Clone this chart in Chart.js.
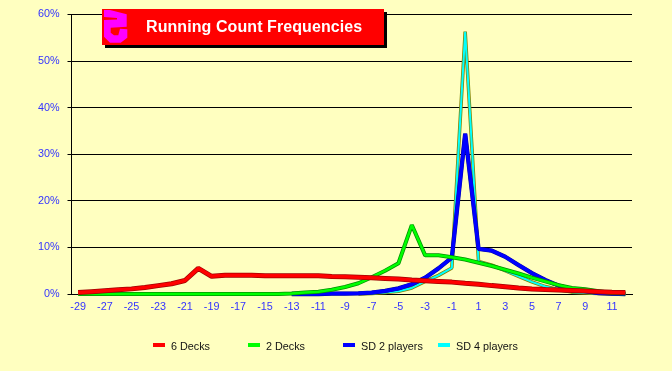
<!DOCTYPE html>
<html>
<head>
<meta charset="utf-8">
<title>Running Count Frequencies</title>
<script src="https://cdn.jsdelivr.net/npm/chart.js@4/dist/chart.umd.min.js"></script>
<style>
    html, body { margin: 0; padding: 0; background: #ffffc0; }
    #wrap { position: relative; width: 672px; height: 371px; overflow: hidden; font-family: "Liberation Sans", Arial, sans-serif; }
    #chart { position: absolute; left: 0; top: 0; }
    #banner { position: absolute; left: 102px; top: 9px; width: 282px; height: 36px; background: #ff0000; box-shadow: 3px 3px 0 #000; }
    #banner svg { position: absolute; left: 0; top: 0; }
    #banner span { position: absolute; left: 44px; top: 8px; color: #fff; font-weight: bold; font-size: 16px; line-height: 20px; letter-spacing: 0.08px; white-space: nowrap; }
    .key { position: absolute; top: 339px; font-size: 10.8px; line-height: 14px; color: #111; white-space: nowrap; }
    .key i { position: absolute; left: 0; top: 4px; width: 12px; height: 4px; }
    .key b { font-weight: normal; margin-left: 18px; }
</style>
</head>
<body>
<div id="wrap">
    <canvas id="chart" width="672" height="371"></canvas>
    <div id="banner">
        <svg width="28" height="36"><path d="M2 1 L8 1 L24.7 5.3 L24.7 17.7 L8.7 18.7 L8.7 23.7 L12 26.3 L16.3 26.3 L18 19.7 L25.3 20.3 L25.3 28.7 L18.7 33.7 L8 33.7 L2 27.7 L2 11 L15 10.5 L15 9 L2 8 Z" fill="#ff00ff"/></svg>
        <span>Running Count Frequencies</span>
    </div>
    <div id="legend"></div>
</div>
<script>
var counts = [-29,-28,-27,-26,-25,-24,-23,-22,-21,-20,-19,-18,-17,-16,-15,-14,-13,-12,-11,-10,-9,-8,-7,-6,-5,-4,-3,-2,-1,0,1,2,3,4,5,6,7,8,9,10,11,12];

var sixDecks = [0.3,0.5,0.7,0.9,1.1,1.4,1.8,2.2,2.9,5.5,3.8,4.0,4.0,4.05,3.9,3.9,3.9,3.9,3.9,3.75,3.7,3.6,3.5,3.35,3.2,3.0,2.85,2.7,2.55,2.3,2.1,1.8,1.55,1.3,1.07,0.95,0.85,0.75,0.64,0.5,0.35,0.3];
var twoDecks = [0,0,0,0,0,0,0,0,0,0,0,0,0,0,0,0,0.1,0.3,0.5,0.9,1.5,2.3,3.6,5.0,6.6,14.8,8.3,8.3,7.9,7.4,6.7,6.0,5.2,4.4,3.5,2.7,1.9,1.3,1.0,0.6,0.2,0.1];
var sd2Players = [null,null,null,null,null,null,null,null,null,null,null,null,null,null,null,null,0,0,0,0.1,0.1,0.15,0.3,0.65,1.2,2.1,3.5,5.5,7.8,34.4,9.7,9.3,8.0,6.2,4.5,3.0,1.8,1.0,0.6,0.2,0.1,0];
var sd4Players = [null,null,null,null,null,null,null,null,null,null,null,null,null,null,null,null,null,null,null,null,null,0,0.1,0.3,0.6,1.3,2.7,4.0,5.6,56.3,7.0,6.2,5.0,3.8,2.6,1.6,0.9,0.4,0.2,0.1,0,0];

var seriesNames = ["6 Decks", "2 Decks", "SD 2 players", "SD 4 players"];
var seriesColors = ["#ff0000", "#00ff00", "#0000ff", "#00ffff"];

// darker edge drawn under each line, the original has a two tone stroke
var outlinePlugin = {
    id: "outline",
    beforeDatasetDraw: function(chart, args) {
        var ds = chart.data.datasets[args.index];
        var pts = args.meta.data;
        var ctx = chart.ctx;
        var started = false;
        ctx.save();
        ctx.beginPath();
        for (var i = 0; i < pts.length; i++) {
            if (ds.data[i] === null) continue;
            if (started) {
                ctx.lineTo(pts[i].x, pts[i].y);
            } else {
                ctx.moveTo(pts[i].x, pts[i].y);
                started = true;
            }
        }
        ctx.lineWidth = ds.borderWidth + ds.edgeWidth;
        ctx.strokeStyle = ds.edgeColor;
        ctx.lineJoin = "bevel";
        ctx.stroke();
        ctx.restore();
    }
};

function makeDataset(name, values, color, edge, width, edgeWidth, order) {
    return {
        label: name,
        data: values,
        borderColor: color,
        edgeColor: edge,
        edgeWidth: edgeWidth,
        borderWidth: width,
        borderJoinStyle: "bevel",
        pointRadius: 0,
        tension: 0,
        fill: false,
        clip: false,
        spanGaps: false,
        order: order
    };
}

new Chart(document.getElementById("chart"), {
    type: "line",
    plugins: [outlinePlugin],
    data: {
        labels: counts,
        datasets: [
            makeDataset(seriesNames[0], sixDecks, seriesColors[0], "#a00000", 3.5, 1.5, 1),
            makeDataset(seriesNames[1], twoDecks, seriesColors[1], "#009000", 2.5, 1.5, 2),
            makeDataset(seriesNames[2], sd2Players, seriesColors[2], "#0000a0", 3.5, 0.8, 3),
            makeDataset(seriesNames[3], sd4Players, seriesColors[3], "#808000", 2, 1.5, 4)
        ]
    },
    options: {
        responsive: false,
        animation: false,
        layout: { padding: { left: 0, right: 40, top: 13, bottom: 0 } },
        plugins: { legend: { display: false }, title: { display: false }, tooltip: { enabled: false } },
        scales: {
            x: {
                type: "category",
                offset: true,
                grid: { display: false, tickLength: 0 },
                border: { color: "#000" },
                afterFit: function(scale) { scale.height = 77; },
                ticks: {
                    autoSkip: false,
                    maxRotation: 0,
                    padding: 7,
                    color: "#3333ff",
                    font: { family: "'Liberation Sans', Arial, sans-serif", size: 10.8 },
                    callback: function(value, index) {
                        return index % 2 === 0 ? this.getLabelForValue(value) : "";
                    }
                }
            },
            y: {
                min: 0,
                max: 60,
                afterFit: function(scale) { scale.width = 71.5; },
                grid: { color: "#000", lineWidth: 1, tickLength: 4 },
                border: { color: "#000" },
                ticks: {
                    stepSize: 10,
                    padding: 8,
                    color: "#3333ff",
                    font: { family: "'Liberation Sans', Arial, sans-serif", size: 10.8 },
                    callback: function(value) { return value + "%"; }
                }
            }
        }
    }
});

// legend sits on an even 95px pitch, independent of the label widths
var legendBox = document.getElementById("legend");
seriesNames.forEach(function(name, i) {
    var item = document.createElement("div");
    item.className = "key";
    item.style.left = (153 + i * 95) + "px";
    item.innerHTML = '<i style="background:' + seriesColors[i] + '"></i><b>' + name + '</b>';
    legendBox.appendChild(item);
});
</script>
</body>
</html>
